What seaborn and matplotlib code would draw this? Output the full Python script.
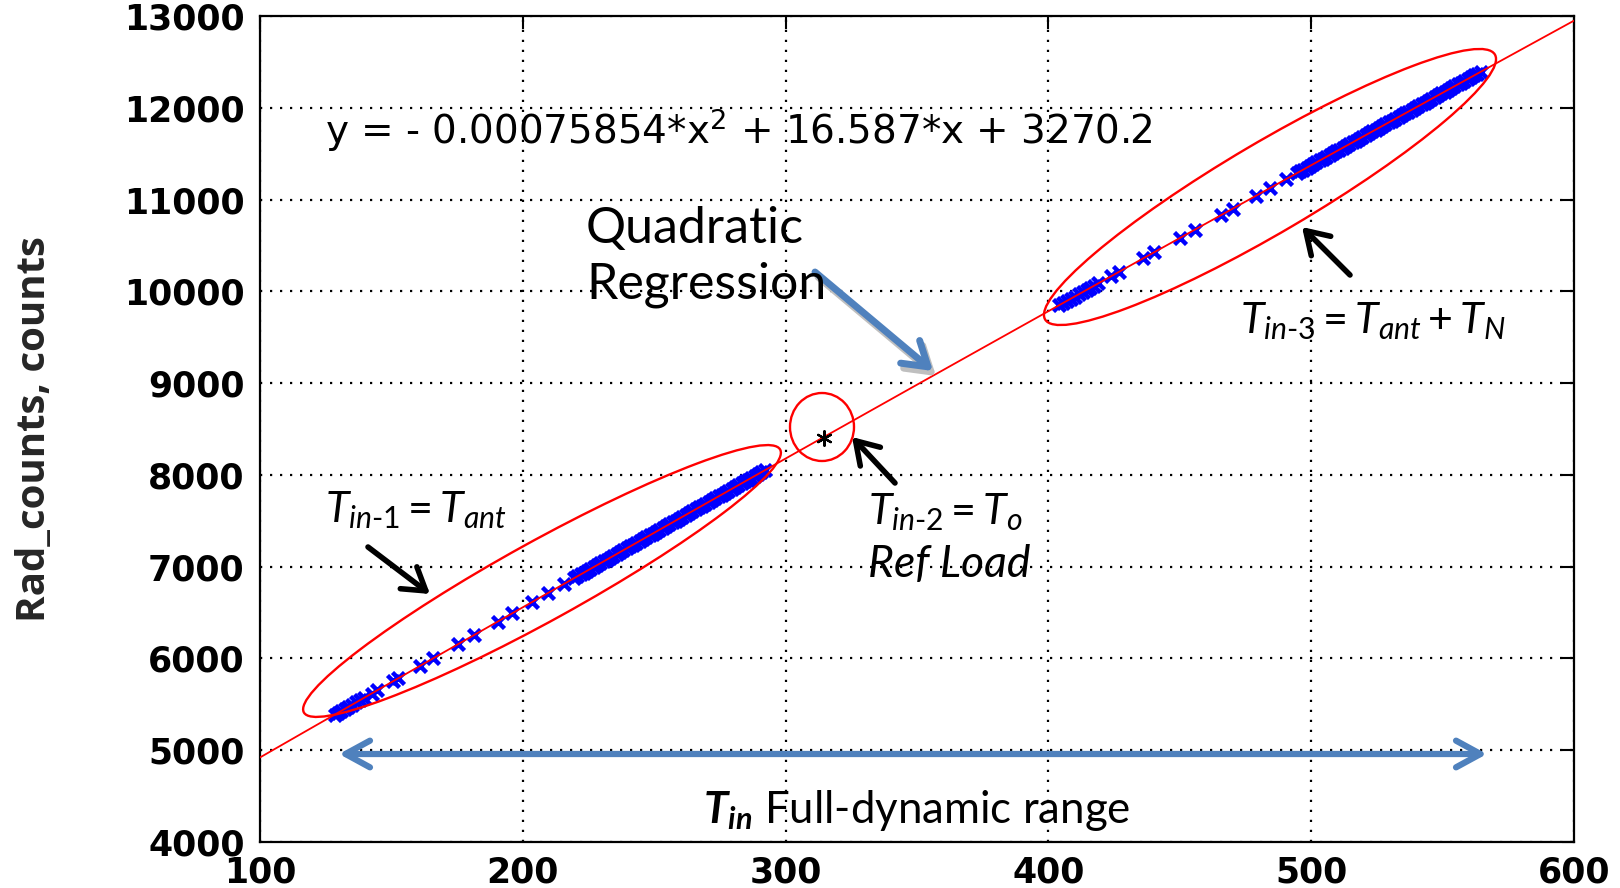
import numpy as np
import pandas as pd
import seaborn as sns
import matplotlib
matplotlib.use("Agg")
import matplotlib.pyplot as plt
from matplotlib.patches import Ellipse

# ---------------- data ----------------
tin1_x = [128.5, 129.8, 131, 132.3, 133.5, 135, 136.5, 138, 139.5, 142.5, 144.5,
          150.5, 152.5, 161, 166, 175.5, 181.5, 190.5, 196, 203.5, 209.5, 215.5,
          219.5, 222, 224.5, 227, 229.5, 232, 234.5, 237, 239.5, 242, 244.5, 247,
          249.5, 252, 254.5, 257, 259.5, 262, 264.5, 267, 269.5, 272, 274.5, 277,
          279.5, 282, 284.5, 287, 289.5, 292,
          220.75, 223.25, 225.75, 228.25, 230.75, 233.25, 235.75, 238.25, 240.75,
          243.25, 245.75, 248.25, 250.75, 253.25, 255.75, 258.25, 260.75, 263.25,
          265.75, 268.25, 270.75, 273.25, 275.75, 278.25, 280.75, 283.25, 285.75,
          288.25, 290.75]
tin1_y = [5389, 5410, 5430, 5451, 5471, 5496, 5520, 5545, 5569, 5618, 5651,
          5749, 5782, 5921, 6003, 6158, 6256, 6402, 6492, 6614, 6712, 6810,
          6874, 6915, 6956, 6996, 7037, 7078, 7118, 7159, 7199, 7240, 7280, 7321,
          7361, 7402, 7442, 7483, 7523, 7564, 7604, 7645, 7685, 7726, 7766, 7807,
          7847, 7887, 7928, 7968, 8009, 8049,
          6895, 6935, 6976, 7017, 7057, 7098, 7138, 7179, 7220,
          7260, 7301, 7341, 7382, 7422, 7463, 7503, 7544, 7584,
          7625, 7665, 7706, 7746, 7786, 7827, 7867, 7908, 7948,
          7988, 8029]
tin3_x = [404, 405.5, 407, 408.5, 410, 411.5, 413, 414.5, 416, 417.5, 419,
          423.8, 427, 436, 440.3, 450, 455.6, 465.8, 470.2, 479, 484.2, 490.6,
          494.5, 497, 499.5, 502, 504.5, 507, 509.5, 512, 514.5, 517, 519.5, 522,
          524.5, 527, 529.5, 532, 534.5, 537, 539.5, 542, 544.5, 547, 549.5, 552,
          554.5, 557, 559.5, 562, 564.5,
          495.75, 498.25, 500.75, 503.25, 505.75, 508.25, 510.75, 513.25, 515.75,
          518.25, 520.75, 523.25, 525.75, 528.25, 530.75, 533.25, 535.75, 538.25,
          540.75, 543.25, 545.75, 548.25, 550.75, 553.25, 555.75, 558.25, 560.75,
          563.25]
tin3_y = [9848, 9872, 9896, 9919, 9943, 9967, 9991, 10015, 10039, 10063, 10087,
          10164, 10215, 10358, 10426, 10581, 10670, 10832, 10902, 11041, 11124, 11225,
          11287, 11327, 11366, 11406, 11445, 11485, 11524, 11564, 11603, 11643, 11682, 11722,
          11761, 11801, 11840, 11880, 11919, 11959, 11998, 12038, 12077, 12116, 12156, 12195,
          12235, 12274, 12313, 12353, 12392,
          11307, 11346, 11386, 11426, 11465, 11505, 11544, 11584, 11623,
          11663, 11702, 11742, 11781, 11821, 11860, 11900, 11939, 11978,
          12018, 12057, 12097, 12136, 12175, 12215, 12254, 12294, 12333,
          12372]
ref_x = [314.5]
ref_y = [8400]
x_ticks = [100, 200, 300, 400, 500, 600]
y_ticks = [4000, 5000, 6000, 7000, 8000, 9000, 10000, 11000, 12000, 13000]

points = pd.DataFrame({"Tin": tin1_x + tin3_x, "counts": tin1_y + tin3_y})
ref = pd.DataFrame({"Tin": ref_x, "counts": ref_y})

# ---------------- style ----------------
sns.set_theme(style="white")
plt.rcParams["font.family"] = ["DejaVu Sans"]
plt.rcParams["mathtext.fontset"] = "custom"
plt.rcParams["mathtext.rm"] = "Lato"
plt.rcParams["mathtext.it"] = "Lato:italic"
plt.rcParams["mathtext.bf"] = "Lato:bold"
plt.rcParams["mathtext.bfit"] = "Lato:italic:bold"
plt.rcParams["mathtext.sf"] = "DejaVu Sans"

W, H = 1620, 888
fig = plt.figure(figsize=(W / 100, H / 100), dpi=100)
L, R, T, B = 260, 1574, 16, 842
ax = fig.add_axes([L / W, (H - B) / H, (R - L) / W, (B - T) / H])
ax.set_xlim(100, 600)
ax.set_ylim(4000, 13000)

# data points
sns.scatterplot(data=points, x="Tin", y="counts", marker="x", color="#0000FF",
                s=75, linewidth=3.2, ax=ax, zorder=3, legend=False)
# quadratic regression curve over the whole axis range
sns.regplot(data=points, x="Tin", y="counts", order=2, scatter=False, ci=None,
            truncate=False, color="red", line_kws=dict(lw=1.3, zorder=4), ax=ax)
# reference load point
sns.scatterplot(data=ref, x="Tin", y="counts", marker=(6, 2, 0), color="black",
                s=110, linewidth=1.6, ax=ax, zorder=5, legend=False)

ax.set_xlim(100, 600)
ax.set_ylim(4000, 13000)
ax.set_xticks(x_ticks)
ax.set_yticks(y_ticks)
ax.set_xlabel("")
ax.set_ylabel("Rad_counts, counts", family="Open Sans", fontweight="bold",
              fontsize=29)
ax.yaxis.set_label_coords(-0.157, 0.5)

ax.grid(True, color="black", linestyle=(0, (1, 3.5)), linewidth=1.6)
ax.tick_params(direction="in", length=9, width=1.5, top=True, right=True,
               labelsize=25, colors="black")
ax.tick_params(axis="y", pad=11)
ax.tick_params(axis="x", pad=10)
for lab in ax.get_xticklabels() + ax.get_yticklabels():
    lab.set_fontweight("bold")
for sp in ax.spines.values():
    sp.set_visible(True)
    sp.set_color("black")
    sp.set_linewidth(1.6)

# ---------------- annotations (figure pixel positions) ----------------
tr = fig.dpi_scale_trans


def P(x, y):
    return (x / 100.0, (H - y) / 100.0)


def ftext(x, y, s, **kw):
    fig.text(*P(x, y), s, transform=tr, **kw)


ftext(325, 143, r"y = - 0.00075854*x$^{\mathsf{2}}$ + 16.587*x + 3270.2",
      fontsize=28, family="DejaVu Sans", color="black", va="baseline")

ftext(586, 243, "Quadratic", family="Lato", fontsize=36, va="baseline", color="black")
ftext(586, 298, "Regression", family="Lato", fontsize=36, va="baseline", color="black")

ftext(325, 522, r"$T_{\mathit{in}\text{-}\mathit{1}} = T_{\mathit{ant}}$",
      fontsize=31, va="baseline", color="black")
ftext(868, 524, r"$T_{\mathit{in}\text{-}\mathit{2}} = T_{\mathit{o}}$",
      fontsize=31, va="baseline", color="black")
ftext(868, 577, "Ref Load", family="Lato", style="italic", fontsize=32,
      va="baseline", color="black")
ftext(1240, 333, r"$T_{\mathit{in}\text{-}\mathit{3}} = T_{\mathit{ant}} + T_{N}$",
      fontsize=31, va="baseline", color="black")
ftext(703, 823, r"$\mathbfit{T}_{\mathbfit{in}}$ Full-dynamic range",
      family="Lato", fontsize=31.5, va="baseline", color="black")

# ellipses
for (cx, cy, w, h, ang) in [(542, 581, 544, 79, 28.9),
                            (1270, 187, 522, 90, 30.5),
                            (822, 427, 64, 68, 0)]:
    fig.add_artist(Ellipse(P(cx, cy), w / 100, h / 100, angle=ang, transform=tr,
                           fill=False, edgecolor="red", linewidth=1.7, zorder=6))


def arrow(tail, tip, color, lw, style, ms, z=7):
    ax.annotate("", xy=P(*tip), xytext=P(*tail), xycoords=tr, textcoords=tr,
                arrowprops=dict(arrowstyle=style, color=color, lw=lw,
                                shrinkA=0, shrinkB=0, mutation_scale=ms),
                annotation_clip=False, zorder=z)


# black pointer arrows
bstyle = "->,head_length=0.6,head_width=0.38"
arrow((368, 547), (430, 594), "black", 4.0, bstyle, 26)
arrow((895, 483), (852, 437), "black", 4.0, bstyle, 26)
arrow((1350, 275), (1302, 227), "black", 4.0, bstyle, 26)

# blue regression pointer with shadow
qstyle = "->,head_length=0.6,head_width=0.38"
arrow((818, 277), (936, 376), "#BFBFBF", 5.0, qstyle, 28, z=6)
arrow((815, 272), (933, 371), "#4F81BD", 5.0, qstyle, 28)

# full dynamic range double arrow
arrow((339, 754), (1487, 754), "#4F81BD", 4.5, "<->,head_length=0.55,head_width=0.3", 32)

fig.savefig("out.png", dpi=100)
